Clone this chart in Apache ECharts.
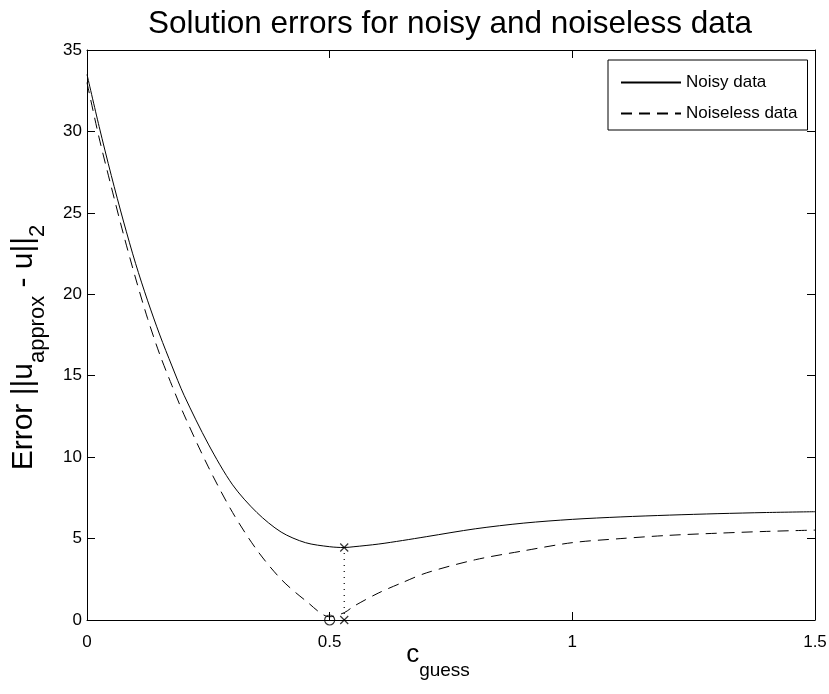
<!DOCTYPE html>
<html>
<head>
<meta charset="utf-8">
<script src="https://cdn.jsdelivr.net/npm/echarts@6/dist/echarts.min.js"></script>
<style>
  html, body { margin: 0; padding: 0; background: #fff; }
  #chart { width: 829px; height: 694px; }
</style>
</head>
<body>
<div id="chart"></div>
<script>
// c_guess sample points and the error
var cGuess = [0, 0.025, 0.05, 0.075, 0.1, 0.125, 0.15, 0.175, 0.2, 0.25, 0.3, 0.35, 0.4, 0.45, 0.5, 0.53, 0.55, 0.6, 0.65, 0.7, 0.8, 0.9, 1.0, 1.1, 1.2, 1.3, 1.4, 1.5];
var noisyErr = [33.5, 30.3, 27.3, 24.5, 21.9, 19.6, 17.5, 15.6, 13.8, 10.8, 8.3, 6.6, 5.4, 4.75, 4.5, 4.45, 4.5, 4.66, 4.88, 5.12, 5.6, 5.95, 6.18, 6.33, 6.44, 6.53, 6.6, 6.65];
var noiselessErr = [33.0, 29.6, 26.6, 23.7, 21.0, 18.5, 16.3, 14.4, 12.6, 9.4, 6.6, 4.3, 2.5, 1.2, 0.2, 0.45, 0.85, 1.65, 2.3, 2.9, 3.7, 4.25, 4.75, 5.0, 5.2, 5.33, 5.44, 5.52];

// markers: true c (circle), minimiser of the noisy curve (crosses)
var cTrue = [0.5];
var cMin = [0.53];
var minErr = [4.45];

var xTicks = [0, 0.5, 1, 1.5];
var yTicks = [0, 5, 10, 15, 20, 25, 30, 35];

function pairs(xs, ys) {
  var out = [];
  for (var i = 0; i < xs.length; i++) out.push([xs[i], ys[i]]);
  return out;
}

var font = '"Liberation Sans", Arial, sans-serif';
var crossPath = 'path://M0,0L10,10M10,0L0,10';

var myChart = echarts.init(document.getElementById('chart'));

var option = {
  animation: false,
  backgroundColor: '#fff',
  title: {
    text: 'Solution errors for noisy and noiseless data',
    left: 143,
    top: 3,
    textStyle: { fontFamily: font, fontSize: 31.5, fontWeight: 'normal', color: '#000' }
  },
  legend: {
    data: ['Noisy data', 'Noiseless data'],
    orient: 'vertical',
    left: 608,
    top: 60,
    backgroundColor: '#fff',
    borderColor: '#000',
    borderWidth: 1,
    borderRadius: 0,
    padding: [14, 10, 8, 12],
    itemGap: 14,
    itemWidth: 60,
    itemHeight: 14,
    itemStyle: { opacity: 0 },
    textStyle: { fontFamily: font, fontSize: 17, color: '#000' }
  },
  grid: { left: 87, right: 14, top: 50, bottom: 74, outerBoundsMode: 'none' },
  xAxis: [{
    type: 'value',
    min: 0, max: 1.5, interval: 0.5,
    name: '{m|c}{s|guess}',
    nameLocation: 'middle',
    nameGap: 22,
    nameMoveOverlap: false,
    nameTextStyle: {
      padding: [0, 26, 0, 0],
      rich: {
        m: { fontFamily: font, fontSize: 26, color: '#000', lineHeight: 26, verticalAlign: 'top' },
        s: { fontFamily: font, fontSize: 19, color: '#000', lineHeight: 38, verticalAlign: 'bottom' }
      }
    },
    axisLine: { show: true, onZero: false, lineStyle: { color: '#000', width: 1 } },
    axisTick: { inside: true, length: 8, lineStyle: { color: '#000' } },
    axisLabel: {
      margin: 14, fontFamily: font, fontSize: 17, color: '#000',
      formatter: function (v) { return xTicks.indexOf(v) >= 0 ? String(v) : ''; }
    },
    splitLine: { show: false }
  }, {
    type: 'value', position: 'top',
    min: 0, max: 1.5, interval: 0.5,
    axisLine: { show: true, onZero: false, lineStyle: { color: '#000', width: 1 } },
    axisTick: { inside: true, length: 8, lineStyle: { color: '#000' } },
    axisLabel: { show: false },
    splitLine: { show: false }
  }],
  yAxis: [{
    type: 'value',
    min: 0, max: 35, interval: 5,
    name: '{m|Error ||u}{s|approx}{m| - u||}{s|2}',
    nameLocation: 'middle',
    nameRotate: 90,
    nameGap: 38,
    nameMoveOverlap: false,
    nameTextStyle: {
      padding: [0, 25, 0, 0],
      rich: {
        m: { fontFamily: font, fontSize: 30, color: '#000', lineHeight: 30, verticalAlign: 'top' },
        s: { fontFamily: font, fontSize: 22, color: '#000', lineHeight: 40, verticalAlign: 'bottom' }
      }
    },
    axisLine: { show: true, onZero: false, lineStyle: { color: '#000', width: 1 } },
    axisTick: { inside: true, length: 8, lineStyle: { color: '#000' } },
    axisLabel: {
      margin: 5, fontFamily: font, fontSize: 17, color: '#000',
      formatter: function (v) { return yTicks.indexOf(v) >= 0 ? String(v) : ''; }
    },
    splitLine: { show: false }
  }, {
    type: 'value', position: 'right',
    min: 0, max: 35, interval: 5,
    axisLine: { show: true, onZero: false, lineStyle: { color: '#000', width: 1 } },
    axisTick: { inside: true, length: 8, lineStyle: { color: '#000' } },
    axisLabel: { show: false },
    splitLine: { show: false }
  }],
  series: [
    {
      name: 'Noisy data',
      type: 'line',
      smooth: 0.3,
      symbol: 'none',
      color: '#000',
      lineStyle: { color: '#000', width: 1 },
      data: pairs(cGuess, noisyErr)
    },
    {
      name: 'Noiseless data',
      type: 'line',
      smooth: 0.3,
      symbol: 'none',
      color: '#000',
      lineStyle: { color: '#000', width: 1, type: [11, 7] },
      data: pairs(cGuess, noiselessErr)
    },
    {
      name: 'min link',
      type: 'line',
      symbol: 'none',
      lineStyle: { color: '#000', width: 1.2, type: [1, 5] },
      data: [[cMin[0], 0], [cMin[0], minErr[0]]]
    },
    {
      name: 'minimiser',
      type: 'scatter',
      clip: false,
      symbol: crossPath,
      symbolSize: 8,
      itemStyle: { color: 'none', borderColor: '#000', borderWidth: 1.2 },
      data: [[cMin[0], 0], [cMin[0], minErr[0]]]
    },
    {
      name: 'true c',
      type: 'scatter',
      clip: false,
      symbol: 'circle',
      symbolSize: 10,
      itemStyle: { color: 'none', borderColor: '#000', borderWidth: 1.2 },
      data: [[cTrue[0], 0]]
    }
  ]
};

myChart.setOption(option);
</script>
</body>
</html>
